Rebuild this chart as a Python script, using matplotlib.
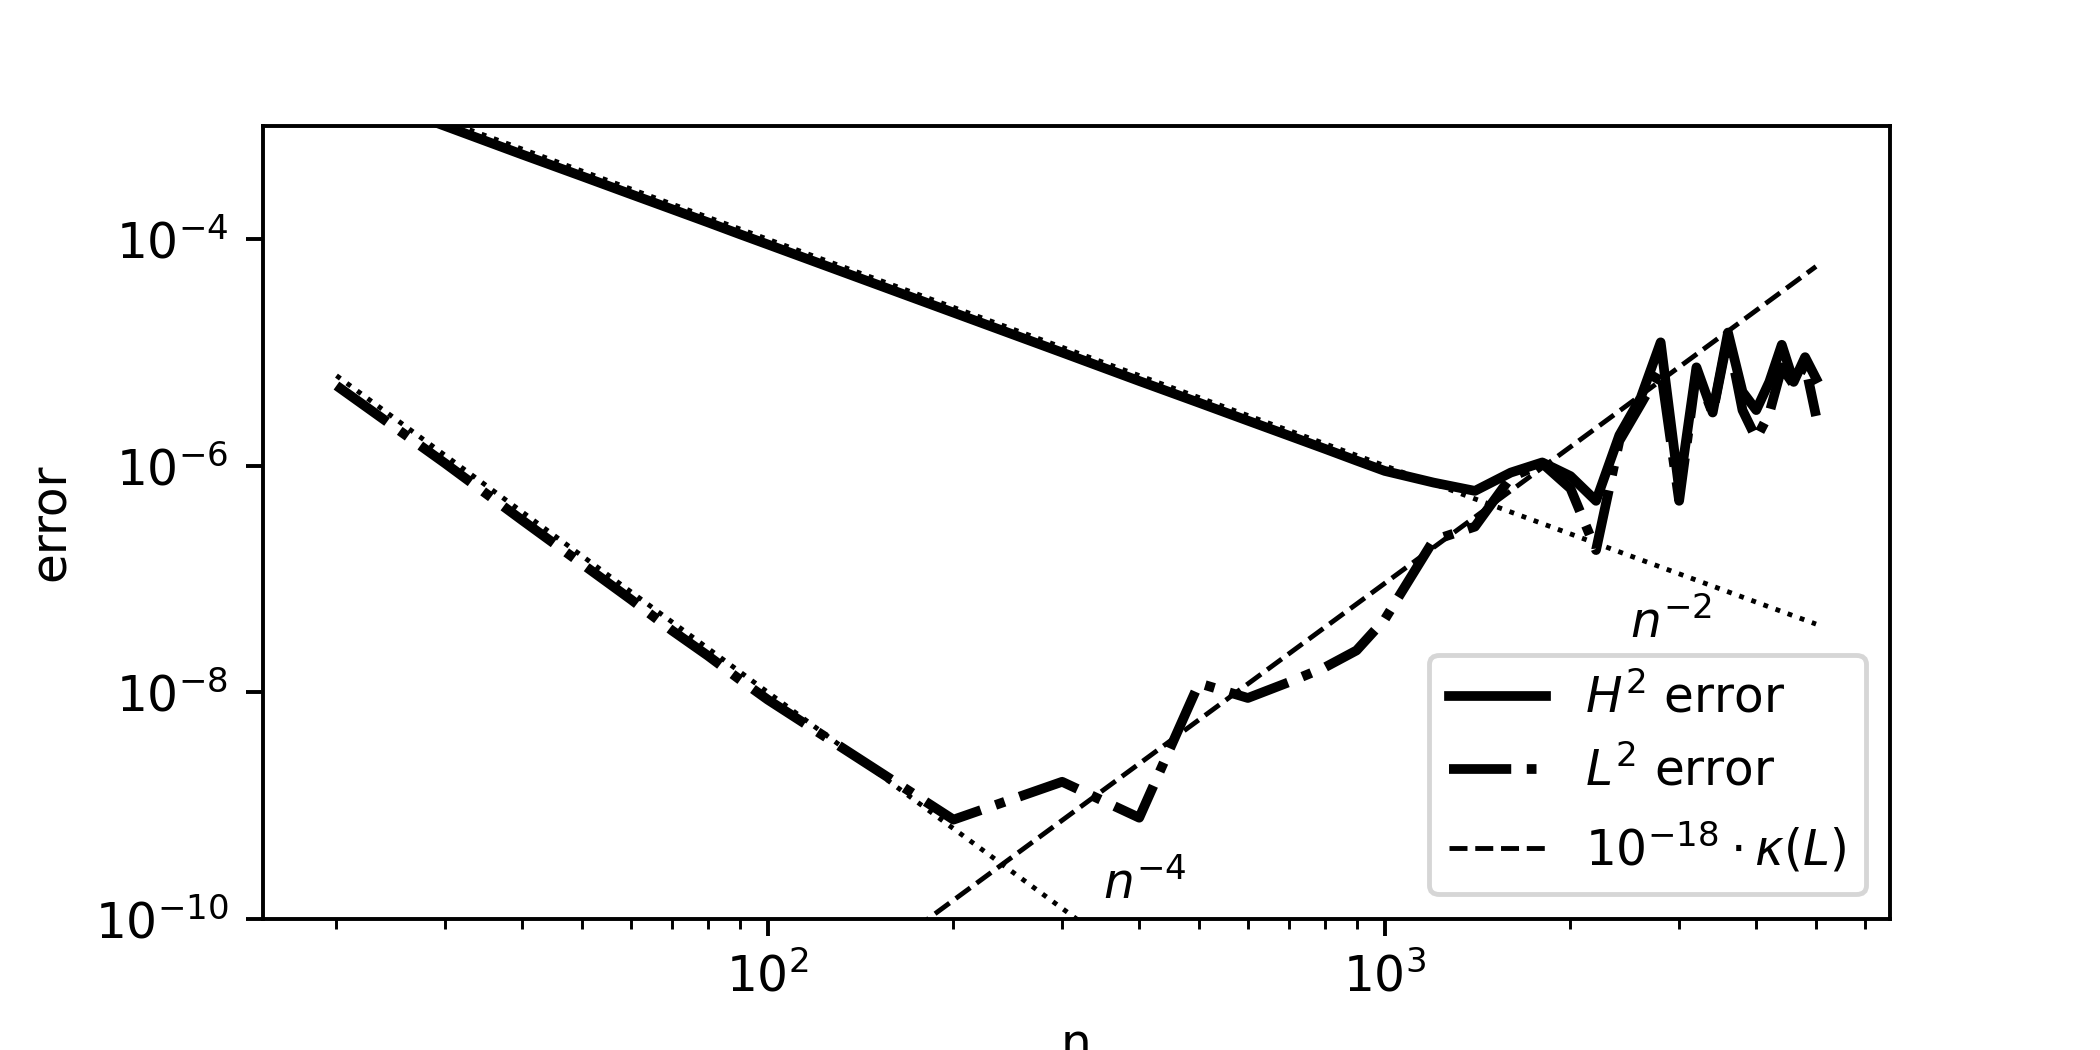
import matplotlib
matplotlib.use("Agg")
import matplotlib.pyplot as plt
import matplotlib.ticker as mticker

# problem sizes
n = [20, 30, 40, 50, 60, 70, 80, 90, 100,
     200, 300, 400, 500, 600, 700, 800, 900, 1000,
     1200, 1400, 1600, 1800, 2000, 2200, 2400, 2600, 2800, 3000,
     3200, 3400, 3600, 3800, 4000, 4200, 4400, 4600, 4800, 5000]

# H2 error
err_h2 = [2.25e-3, 1.0e-3, 5.6e-4, 3.6e-4, 2.5e-4, 1.84e-4, 1.41e-4, 1.11e-4, 9.0e-5,
          2.25e-5, 1.0e-5, 5.6e-6, 3.6e-6, 2.5e-6, 1.84e-6, 1.41e-6, 1.11e-6, 9.0e-7,
          7.1e-7, 6.0e-7, 8.7e-7, 1.07e-6, 8.1e-7, 4.9e-7, 1.86e-6, 4.0e-6, 1.23e-5, 6.2e-7,
          7.4e-6, 2.95e-6, 1.5e-5, 4.5e-6, 3.1e-6, 5.5e-6, 1.17e-5, 5.5e-6, 9.1e-6, 5.9e-6]

# L2 error
err_l2 = [5.1e-6, 1.05e-6, 3.3e-7, 1.36e-7, 6.6e-8, 3.5e-8, 2.1e-8, 1.3e-8, 8.6e-9,
          7.5e-10, 1.62e-9, 7.8e-10, 1.2e-8, 8.9e-9, 1.23e-8, 1.66e-8, 2.34e-8, 4.4e-8,
          2.2e-7, 2.9e-7, 7.9e-7, 1.05e-6, 6.3e-7, 1.8e-7, 1.66e-6, 3.5e-6, 7.1e-6, 4.9e-7,
          6.8e-6, 2.9e-6, 1.38e-5, 3.1e-6, 1.74e-6, 2.9e-6, 7.4e-6, 5.2e-6, 7.9e-6, 2.75e-6]

# scaled condition number and reference rates (end points)
n_ref = [20, 5000]
kappa_scaled = [1.45e-14, 5.75e-5]
rate2 = [2.5e-3, 4.0e-8]
rate4 = [6.25e-6, 1.6e-15]

fig, ax = plt.subplots(figsize=(6, 3), dpi=350)
fig.subplots_adjust(left=0.125, right=0.9, top=0.88, bottom=0.125)

ax.loglog(n, err_h2, 'k-', lw=2, label=r'$H^2$ error')
ax.loglog(n, err_l2, 'k-.', lw=2, label=r'$L^2$ error')
ax.loglog(n_ref, kappa_scaled, 'k--', lw=1, label=r'$10^{-18}\cdot\kappa(L)$')
ax.loglog(n_ref, rate2, 'k:', lw=1)
ax.loglog(n_ref, rate4, 'k:', lw=1)

ax.text(2500, 3e-8, r'$n^{-2}$')
ax.text(350, 1.5e-10, r'$n^{-4}$')

ax.set_ylim(1e-10, 1e-3)
ax.yaxis.set_major_locator(mticker.FixedLocator([1e-10, 1e-8, 1e-6, 1e-4]))
ax.yaxis.set_minor_locator(mticker.NullLocator())

ax.set_xlabel('n')
ax.set_ylabel('error')
ax.legend(loc='lower right')

plt.savefig('out.png', dpi=350)
